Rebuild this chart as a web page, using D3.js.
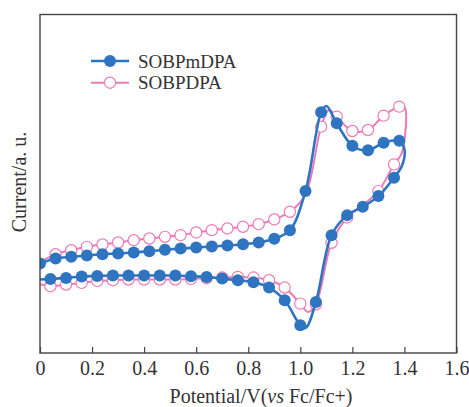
<!DOCTYPE html>
<html>
<head>
<meta charset="utf-8">
<script src="https://cdn.jsdelivr.net/npm/d3@7"></script>
<style>
  body { margin: 0; background: #fff; }
  svg { display: block; }
  text { font-family: "Liberation Serif", "DejaVu Serif", serif; fill: #333; }
</style>
</head>
<body>
<script>
// Potential (V) and current (a.u.).
// third field: 1 = a marker sits on this point, 0 = curve-only point
const seriesNames = ["SOBPmDPA", "SOBPDPA"];
const xTicks = [0, 0.2, 0.4, 0.6, 0.8, 1.0, 1.2, 1.4, 1.6];
const xTickLabels = ["0", "0.2", "0.4", "0.6", "0.8", "1.0", "1.2", "1.4", "1.6"];

const sobpmdpa = [
  [0.00, 26.8, 1], [0.06, 28.3, 1], [0.12, 28.8, 1], [0.18, 29.2, 1], [0.24, 29.6, 1],
  [0.30, 29.8, 1], [0.36, 30.1, 1], [0.42, 30.5, 1], [0.48, 30.9, 1], [0.54, 31.3, 1],
  [0.60, 31.6, 1], [0.66, 31.9, 1], [0.72, 32.2, 1], [0.78, 32.6, 1], [0.84, 33.1, 1],
  [0.90, 34.2, 1], [0.96, 36.8, 1], [1.02, 48.5, 1], [1.08, 72.1, 1], [1.10, 74.0, 0],
  [1.14, 68.8, 1], [1.20, 62.1, 1], [1.26, 60.7, 1], [1.32, 63.0, 1], [1.38, 63.6, 1],
  [1.40, 61.0, 0], [1.39, 56.0, 0],
  [1.36, 52.5, 1], [1.30, 47.0, 1], [1.24, 43.8, 1], [1.18, 41.3, 1], [1.12, 35.3, 1],
  [1.06, 15.3, 1], [1.02, 7.5, 0], [1.00, 8.3, 1], [0.94, 15.8, 1], [0.88, 19.6, 1],
  [0.82, 21.2, 1], [0.76, 21.8, 1], [0.70, 22.3, 1], [0.64, 22.8, 1], [0.58, 23.0, 1],
  [0.52, 23.2, 1], [0.46, 23.2, 1], [0.40, 23.2, 1], [0.34, 23.2, 1], [0.28, 23.2, 1],
  [0.22, 23.1, 1], [0.16, 22.9, 1], [0.10, 22.5, 1], [0.04, 22.2, 1], [0.00, 22.0, 0]
];

const sobpdpa = [
  [0.00, 27.2, 0], [0.06, 29.6, 1], [0.12, 30.8, 1], [0.18, 31.8, 1], [0.24, 32.5, 1],
  [0.30, 33.1, 1], [0.36, 33.8, 1], [0.42, 34.3, 1], [0.48, 34.8, 1], [0.54, 35.3, 1],
  [0.60, 36.1, 1], [0.66, 36.8, 1], [0.72, 37.3, 1], [0.78, 37.8, 1], [0.84, 38.6, 1],
  [0.90, 40.0, 1], [0.96, 42.3, 1], [1.02, 47.5, 0], [1.08, 67.8, 1], [1.11, 72.8, 0],
  [1.14, 70.8, 1], [1.20, 66.5, 1], [1.26, 66.8, 1], [1.32, 71.1, 1], [1.38, 73.8, 1],
  [1.40, 73.8, 0], [1.39, 60.0, 0],
  [1.36, 56.5, 1], [1.30, 48.5, 1], [1.24, 44.3, 0], [1.18, 40.6, 1], [1.12, 33.0, 1],
  [1.06, 14.6, 1], [1.03, 12.3, 0], [1.00, 14.8, 1], [0.94, 19.6, 1], [0.88, 21.8, 1],
  [0.82, 22.6, 1], [0.76, 22.8, 1], [0.70, 22.6, 1], [0.64, 22.4, 1], [0.58, 22.2, 1],
  [0.52, 22.0, 1], [0.46, 22.0, 1], [0.40, 22.0, 1], [0.34, 22.0, 1], [0.28, 21.8, 1],
  [0.22, 21.6, 1], [0.16, 21.0, 1], [0.10, 20.5, 1], [0.04, 20.0, 1], [0.00, 20.6, 0]
];

const blue = "#2f74c0", pink = "#ee7ab6";

const width = 469, height = 407;
const margin = { top: 14.5, right: 12.5, bottom: 54, left: 40 };
const innerW = width - margin.left - margin.right;
const innerH = height - margin.top - margin.bottom;

const svg = d3.select("body").append("svg")
    .attr("width", width)
    .attr("height", height);

const g = svg.append("g")
    .attr("transform", `translate(${margin.left}, ${margin.top})`);

const xScale = d3.scaleLinear().domain([0, 1.6]).range([0, innerW]);
const yScale = d3.scaleLinear().domain([0, 101.4]).range([innerH, 0]);

g.append("clipPath").attr("id", "plotClip")
  .append("rect").attr("width", innerW).attr("height", innerH);

const line = d3.line()
    .x(d => xScale(d[0]))
    .y(d => yScale(d[1]))
    .curve(d3.curveCatmullRom.alpha(0.5));

const plot = g.append("g").attr("clip-path", "url(#plotClip)");

// pink first, blue on top
const layers = [
  { data: sobpdpa, color: pink, filled: false, lw: 2 },
  { data: sobpmdpa, color: blue, filled: true, lw: 2.6 }
];

layers.forEach(s => {
  plot.append("path")
      .datum(s.data)
      .attr("fill", "none")
      .attr("stroke", s.color)
      .attr("stroke-width", s.lw)
      .attr("d", line);
  plot.selectAll(null)
      .data(s.data.filter(d => d[2] === 1))
      .enter().append("circle")
      .attr("cx", d => xScale(d[0]))
      .attr("cy", d => yScale(d[1]))
      .attr("r", s.filled ? 6 : 5.6)
      .attr("fill", s.filled ? s.color : "#fff")
      .attr("stroke", s.filled ? "none" : s.color)
      .attr("stroke-width", 1.2);
});

// frame
g.append("rect")
    .attr("width", innerW).attr("height", innerH)
    .attr("fill", "none")
    .attr("stroke", "#444")
    .attr("stroke-width", 1.4);

// x axis
const xAxis = g.append("g")
    .attr("transform", `translate(0, ${innerH})`)
    .call(d3.axisBottom(xScale).tickValues(xTicks).tickSize(-6).tickPadding(8)
      .tickFormat((d, i) => xTickLabels[i]));
xAxis.select(".domain").remove();
xAxis.selectAll("line").attr("stroke", "#444").attr("stroke-width", 1.2);
xAxis.selectAll("text")
    .attr("font-family", "Liberation Serif, serif")
    .attr("font-size", 20)
    .attr("fill", "#333");

// axis titles
const xTitle = svg.append("text")
    .attr("x", 261)
    .attr("y", 403)
    .attr("text-anchor", "middle")
    .attr("font-size", 20);
xTitle.append("tspan").text("Potential/V(");
xTitle.append("tspan").attr("font-style", "italic").text("vs");
xTitle.append("tspan").text(" Fc/Fc+)");

svg.append("text")
    .attr("transform", "rotate(-90)")
    .attr("x", -182)
    .attr("y", 26)
    .attr("text-anchor", "middle")
    .attr("font-size", 20)
    .text("Current/a. u.");

// legend
const legend = svg.append("g").attr("transform", "translate(91, 61)");
const legendItems = legend.selectAll("g")
    .data([layers[1], layers[0]])
    .enter().append("g")
    .attr("transform", (d, i) => `translate(0, ${i * 21.7})`);

legendItems.append("line")
    .attr("x1", 0).attr("x2", 38)
    .attr("stroke", d => d.color)
    .attr("stroke-width", d => d.lw);
legendItems.append("circle")
    .attr("cx", 19).attr("cy", 0)
    .attr("r", d => d.filled ? 6 : 5.6)
    .attr("fill", d => d.filled ? d.color : "#fff")
    .attr("stroke", d => d.filled ? "none" : d.color)
    .attr("stroke-width", 1.2);
legendItems.append("text")
    .attr("x", 47)
    .attr("y", 6.5)
    .attr("font-size", 19)
    .text((d, i) => seriesNames[i]);
</script>
</body>
</html>
